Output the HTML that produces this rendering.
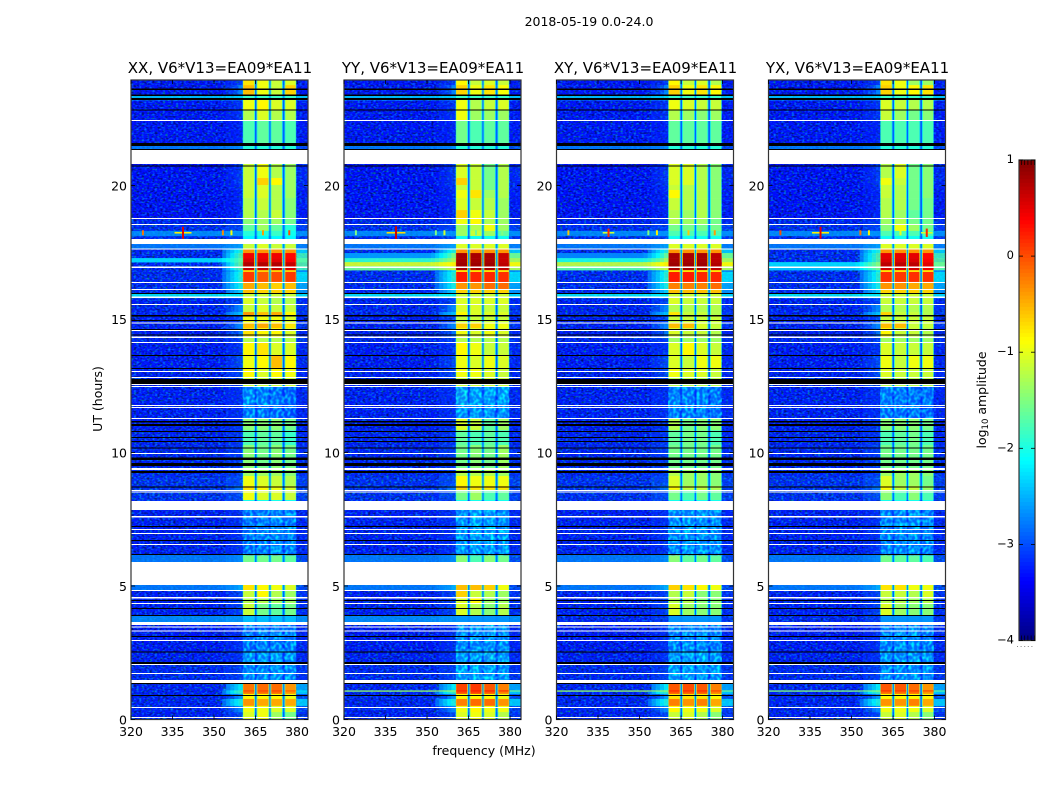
<!DOCTYPE html>
<html>
<head>
<meta charset="utf-8">
<title>2018-05-19 0.0-24.0</title>
<style>
html,body{margin:0;padding:0;background:#fff;}
svg{display:block;}
text{font-family:"DejaVu Sans","Liberation Sans",sans-serif;fill:#000;}
</style>
</head>
<body>
<svg id="chart" xmlns="http://www.w3.org/2000/svg" width="1050" height="800" viewBox="0 0 1050 800">
  <defs>
    <filter id="speckle-off" filterUnits="objectBoundingBox" x="0" y="0" width="1" height="1" color-interpolation-filters="sRGB">
      <feTurbulence type="fractalNoise" baseFrequency="0.38 0.55" numOctaves="1" seed="4"/>
      <feColorMatrix type="matrix" values="0 0 0 0 0  2 0 0 0 -0.95  0 3 0 0 -0.55  0 0 0 0 0.62"/>
    </filter>
    <filter id="speckle-quiet" filterUnits="objectBoundingBox" x="0" y="0" width="1" height="1" color-interpolation-filters="sRGB">
      <feTurbulence type="fractalNoise" baseFrequency="0.34 0.3" numOctaves="1" seed="9"/>
      <feColorMatrix type="matrix" values="0 0 0 0 0  3 0 0 0 -1.2  0 0 0 0 1  0 0 0 0 0.5"/>
    </filter>
  </defs>
  <rect x="0" y="0" width="1050" height="800" fill="#fff"/>
  <text x="589" y="26" font-size="12.5" text-anchor="middle">2018-05-19 0.0-24.0</text>
  <text x="484" y="755" font-size="12.5" text-anchor="middle">frequency (MHz)</text>
  <text x="0" y="0" font-size="12.5" text-anchor="middle" transform="translate(102,399) rotate(-90)">UT (hours)</text>
  <text x="0" y="0" font-size="12.5" text-anchor="middle" transform="translate(986,400) rotate(-90)">log<tspan font-size="8.5" dy="2">10</tspan><tspan dy="-2"> amplitude</tspan></text>
  <g id="panels"></g>
  <g id="colorbar"></g>
</svg>
<script>
// ---- chart data (log10 amplitude, hours, MHz) ----
const panelTitles = ['XX, V6*V13=EA09*EA11','YY, V6*V13=EA09*EA11','XY, V6*V13=EA09*EA11','YX, V6*V13=EA09*EA11'];
const freqTicks = [320,335,350,365,380];
const hourTicks = [0,5,10,15,20];
const colorTicks = [1,0,-1,-2,-3,-4];
const colorTickLabels = ['1','0','\u22121','\u22122','\u22123','\u22124'];
const bandEdgesMHz = [320,354,357.5,360.3,364.8,365.4,369.95,370.45,374.8,375.5,379.8,384];
const rowEdgesHours = [23.95,23.76,23.39,23.20,22.83,22.45,21.59,21.33,20.81,20.28,20.02,19.83,19.53,19.08,18.78,18.56,18.30,18.11,17.81,17.62,17.47,17.28,17.13,16.98,16.83,16.76,16.39,16.12,15.97,15.79,15.56,15.26,15.11,14.85,14.66,14.33,14.14,13.65,13.17,12.83,12.49,11.78,11.29,10.84,10.28,9.42,9.12,8.75,8.60,8.22,7.85,6.31,6.16,5.90,5.04,4.85,4.59,4.33,3.91,3.65,3.54,2.53,2.08,1.48,1.33,1.09,1.05,0.96,0.77,0.51,0.28,0];
// off-band levels per row: background, shoulder outer, shoulder inner, gap, right edge
const offBandLevels = [
[-3.2,-3.1,-2.9,-2.9,-3.2],[-3.2,-2.9,-2.6,-2.8,-3.2],[-2.3,-2.3,-2.2,-2.6,-2.3],[-3.2,-3.1,-3,-2.9,-3.2],[-3.2,-3.1,-3,-2.9,-3.2],
[-3.2,-3.2,-3.1,-2.9,-3.2],[-2.7,-2.7,-2.6,-2.8,-2.8],[-3.2,-3.2,-3.2,-3,-3.2],[-3.25,-3.1,-2.9,-2.9,-3.1],[-3.25,-3.1,-2.9,-2.9,-3.1],
[-3.25,-3.15,-3,-2.9,-3.15],[-3.25,-3.2,-3.1,-2.9,-3.2],[-3.25,-3.2,-3.1,-2.9,-3.2],[-3.25,-3.2,-3.1,-2.9,-3.2],[-3.05,-3.05,-3,-2.9,-3.05],
[-2.95,-2.95,-2.9,-2.8,-2.9],[-2.6,-2.6,-2.6,-2.8,-2.6],[-3,-3,-2.9,-2.9,-3],[-2.7,-2.6,-2.5,-2.7,-2.7],[-3,-2.2,-1.9,-2.6,-2.3],
[-3,-2,-1.6,-2.6,-1.8],[-3,-2,-1.6,-2.6,-1.7],[-3,-1.9,-1.5,-2.6,-1.7],[-3,-2,-1.6,-2.6,-1.8],[-3,-2.4,-2,-2.6,-2.6],
[-3,-2.2,-1.8,-2.6,-2.2],[-3,-2.3,-1.9,-2.7,-2.5],[-3,-2.5,-2.2,-2.7,-2.6],[-2.1,-2.1,-2.1,-2.6,-2.2],[-3.1,-3,-2.9,-2.9,-3.1],
[-3.05,-2.8,-2.6,-2.9,-3],[-3.05,-2.5,-2.3,-2.8,-3],[-3.1,-3,-2.8,-2.9,-3.1],[-3.1,-2.8,-2.6,-2.8,-3],[-3.1,-2.9,-2.7,-2.9,-3.1],
[-3,-3,-2.9,-2.9,-3],[-3.15,-3.1,-3,-2.9,-3.1],[-3.15,-3,-2.8,-2.9,-3.1],[-3.1,-3,-2.8,-2.9,-3.1],[-3.1,-3,-2.9,-2.9,-3.1],
[-3.1,-3.1,-3.05,-2.95,-3.1],[-3.1,-3.1,-3.05,-2.95,-3.1],[-3.1,-3.05,-3,-2.9,-3.1],[-3.05,-3.05,-3,-2.9,-3.1],[-3.05,-3,-2.95,-2.9,-3.05],
[-3,-3,-2.9,-2.9,-3],[-2.9,-2.9,-2.8,-2.8,-2.9],[-2.9,-2.8,-2.7,-2.8,-2.9],[-2.9,-2.9,-2.8,-2.8,-2.9],[-3,-3,-3,-3,-3],
[-3.1,-3.1,-3,-2.95,-3.1],[-3.1,-3.1,-3,-2.95,-3.1],[-2.7,-2.7,-2.6,-2.8,-2.8],[-3,-3,-3,-3,-3],[-2.7,-2.6,-2.4,-2.7,-2.8],
[-3.1,-3,-2.8,-2.9,-3],[-3.1,-3,-2.9,-2.9,-3.05],[-3.1,-3,-2.9,-2.9,-3.05],[-2.6,-2.6,-2.6,-2.7,-2.6],[-3,-3,-3,-3,-3],
[-3.15,-3.1,-3,-2.95,-3.1],[-3.1,-3.1,-3,-2.95,-3.1],[-3,-3,-2.9,-2.95,-3],[-3,-3,-3,-3,-3],[-3.05,-2.4,-2,-2.7,-2.5],
[-3.05,-1.9,-1.7,-2.6,-2.2],[-3.05,-2,-1.8,-2.7,-2.3],[-3.05,-2.8,-2.5,-2.8,-2.8],[-3.05,-2.2,-1.9,-2.7,-2.3],[-3.05,-2.8,-2.6,-2.8,-2.9],
[-3.1,-3,-2.8,-2.9,-3]];
// panel-specific off-band overrides: row top hour, background, shoulder outer, shoulder inner, right edge
const xxOverrides = [[17.28,-2.3,-1.9,-1.6,-1.7]];
const yyOverrides = [[17.47,-2.6,-1.9,-1.4,-1.6],[17.28,-1.9,-1.5,-1.2,-1.3],[17.13,-1.1,-0.9,-0.8,-0.9],[16.98,-1.6,-1.3,-1.1,-1.3],[1.09,-1.4,-1.3,-1.3,-1.5]];
const xyOverrides = [[17.47,-2.7,-2,-1.5,-1.6],[17.28,-2,-1.6,-1.2,-1.3],[17.13,-1.2,-0.9,-0.8,-0.9],[16.98,-1.7,-1.3,-1.1,-1.3],[3.91,-3,-3,-3,-3],[1.09,-1.4,-1.3,-1.3,-1.5]];
const yxOverrides = [[17.13,-2.3,-1.7,-1.4,-1.6],[16.98,-2.4,-1.8,-1.5,-1.7],[3.91,-3,-3,-3,-3],[1.09,-1.5,-1.4,-1.3,-1.6]];
// mean levels of the four spectral windows per row
const xxWindows = [
[-0.7,-0.9,-1.1,-1],[-0.5,-0.9,-1.1,-0.6],[-1.8,-1.8,-1.8,-1.8],[-0.9,-0.8,-1,-1],[-1.2,-1,-1.2,-1.2],
[-1.7,-1.6,-1.6,-1.7],[-1.9,-1.9,-1.9,-1.9],[-2,-2,-2,-2],[-1.1,-0.9,-1.2,-1.3],[-1.1,-0.6,-0.8,-1.3],
[-1.1,-1,-1.2,-1.3],[-1.1,-1,-1.2,-1.3],[-1.2,-1.1,-1.2,-1.4],[-1.2,-1.2,-1.1,-1.4],[-1.4,-1.3,-1.3,-1.5],
[-1.6,-1.3,-1.6,-1.9],[-1.9,-1.9,-1.8,-2],[-2.1,-2.1,-2.1,-2.1],[-1.1,-1,-1.1,-1.1],[-0.3,-0.3,-0.3,-0.3],
[0.5,0.5,0.5,0.4],[0.6,0.55,0.55,0.45],[0.8,0.8,0.8,0.7],[0.7,0.7,0.7,0.6],[-0.6,-0.6,-0.6,-0.6],
[0.15,0,0.05,0.15],[-0.4,-0.5,-0.6,-0.5],[-0.5,-0.6,-0.6,-0.6],[-1.1,-1.1,-1.1,-1.1],[-1,-1.1,-1.2,-1.2],
[-1.1,-1,-1.1,-1.1],[-0.3,-0.5,-0.4,-0.8],[-0.9,-0.9,-0.9,-1],[-0.5,-0.4,-0.5,-0.7],[-0.7,-0.8,-0.8,-1],
[-1.2,-1.2,-1.2,-1.2],[-0.8,-0.7,-1,-1],[-0.9,-0.8,-0.5,-0.8],[-0.8,-1,-0.8,-0.9],[-1.1,-1.1,-1.1,-1.1],
[-2.3,-2.4,-2.5,-2.6],[-2.5,-2.5,-2.6,-2.7],[-1.4,-1.4,-1.4,-1.5],[-1.7,-1.6,-1.6,-1.8],[-1.4,-1.5,-1.4,-1.5],
[-1.3,-1.3,-1.3,-1.4],[-0.9,-1,-1.1,-1.2],[-0.7,-0.8,-0.9,-1],[-0.9,-1,-1,-1.1],[-2,-2,-2,-2],
[-2.5,-2.4,-2.3,-2.4],[-2.5,-2.4,-2.3,-2.4],[-1.5,-1.5,-1.5,-1.6],[-2,-2,-2,-2],[-0.7,-0.8,-0.9,-1],
[-1.1,-0.8,-1.2,-1.3],[-1.2,-1.2,-1.3,-1.3],[-1.1,-1.5,-1.6,-1.5],[-2.4,-2.4,-2.4,-2.4],[-2.5,-2.5,-2.5,-2.5],
[-2.5,-2.4,-2.4,-2.4],[-2.2,-2.2,-2.1,-2.2],[-2.3,-2.3,-2.2,-2.3],[-1,-1,-1,-1],[-0.15,-0.1,-0.1,-0.3],
[0.1,0.1,0.1,0],[-0.15,-0.1,-0.1,-0.3],[-0.8,-0.8,-0.8,-0.9],[-0.3,-0.4,-0.4,-0.4],[-0.9,-0.9,-1,-1],
[-1,-0.9,-1.3,-1.5]];
const yyWindows = [
[-0.8,-1.1,-1,-1.1],[-0.6,-0.9,-0.7,-0.85],[-1.8,-1.8,-1.8,-1.8],[-0.9,-1.2,-1.1,-1],[-0.9,-1.3,-1.3,-1.3],
[-1.5,-1.7,-1.6,-1.6],[-1.9,-1.9,-1.9,-1.9],[-2,-2,-2,-2],[-1,-1.1,-1.5,-1.2],[-0.6,-1.1,-1.5,-1.2],
[-1.1,-1.1,-1.5,-1.2],[-0.9,-0.7,-1.3,-1.2],[-1,-1.1,-1.2,-1.3],[-0.6,-0.9,-1.1,-1.3],[-0.9,-0.8,-1.2,-1.3],
[-1.3,-1.2,-0.9,-1.3],[-1.3,-1.1,-1.3,-1.6],[-2,-2,-2,-2],[-1,-1,-1,-1],[-0.3,-0.3,-0.3,-0.3],
[0.85,0.85,0.85,0.7],[0.85,0.85,0.85,0.7],[0.9,0.9,0.9,0.75],[0.85,0.85,0.85,0.75],[-0.7,-0.7,-0.7,-0.7],
[0.3,0.25,0.25,0.2],[-0.3,-0.3,-0.1,-0.1],[-0.6,-0.6,-0.6,-0.6],[-1.1,-1.1,-1.1,-1.1],[-1,-1,-1,-1],
[-1,-1,-1.1,-1.1],[-0.8,-1,-1,-1],[-1.1,-1.1,-1.1,-1.1],[-0.6,-0.6,-0.9,-0.9],[-0.9,-1,-0.9,-1],
[-1.2,-1.2,-1.2,-1.2],[-0.8,-0.9,-1.1,-1.1],[-0.9,-1,-0.9,-1],[-0.9,-0.9,-1,-1.1],[-1.1,-1.1,-1.1,-1.1],
[-2,-2.1,-2.1,-2.1],[-2.2,-2.2,-2.2,-2.2],[-1,-1.1,-1.6,-1.3],[-1.6,-1.7,-1.6,-1.7],[-1.5,-1.4,-1.5,-1.3],
[-1.2,-1.2,-1.2,-1.3],[-0.8,-0.9,-0.9,-0.9],[-0.6,-0.7,-0.7,-0.7],[-1.5,-1.3,-1.7,-1.6],[-2,-2,-2,-2],
[-2.2,-2.1,-2.1,-2.2],[-2.2,-2.1,-2.1,-2.2],[-1.4,-1.7,-1.4,-1.5],[-2,-2,-2,-2],[-0.5,-0.5,-0.6,-0.9],
[-0.6,-1.1,-1.2,-1.3],[-1,-0.8,-1.3,-1.3],[-1,-1.2,-1.4,-1.2],[-2.6,-2.6,-2.6,-2.6],[-2.5,-2.5,-2.5,-2.5],
[-2.3,-2.3,-2.2,-2.3],[-2.1,-2.1,-2,-2.1],[-2.1,-2.1,-2.1,-2.2],[-1,-1,-1,-1],[0.1,0.15,0,-0.2],
[0.3,0.3,0.3,0.2],[0.05,0.1,0,-0.2],[-0.8,-0.8,-0.8,-0.9],[-0.2,-0.1,-0.1,-0.3],[-0.9,-0.8,-0.9,-0.9],
[-1,-0.9,-1,-1.2]];
const xyWindows = [
[-0.8,-1.1,-1,-1.2],[-0.6,-0.9,-0.7,-0.8],[-1.8,-1.8,-1.8,-1.8],[-0.9,-1,-1.1,-1.1],[-1.2,-1.3,-1.4,-1.3],
[-1.6,-1.6,-1.6,-1.6],[-1.9,-1.9,-1.9,-1.9],[-2,-2,-2,-2],[-1,-1,-1.2,-1.4],[-1,-1,-1.2,-1.4],
[-1.1,-1.2,-1.2,-1.4],[-0.8,-1.2,-1.2,-1.4],[-1.1,-1.2,-1.2,-1.4],[-1.2,-1.3,-1.2,-1.4],[-1.2,-1.3,-1.3,-1.5],
[-1.5,-1.5,-1.5,-1.5],[-1.7,-1.7,-1.7,-1.7],[-2,-2,-2,-2],[-1,-1,-1,-1],[-0.3,-0.3,-0.3,-0.3],
[0.85,0.85,0.85,0.75],[0.85,0.85,0.85,0.75],[0.9,0.9,0.9,0.8],[0.85,0.85,0.85,0.75],[-0.7,-0.7,-0.7,-0.7],
[0.3,0.3,0.25,0.25],[-0.2,-0.2,-0.2,-0.1],[-0.5,-0.5,-0.5,-0.5],[-1.1,-1.1,-1.1,-1.1],[-1,-1.1,-1.1,-1.1],
[-1.2,-1.2,-1.2,-1.2],[-0.7,-1.1,-1.1,-1.2],[-1.1,-1.1,-1.1,-1.1],[-0.5,-0.5,-1,-1.1],[-1,-1.1,-1.1,-1.2],
[-1.3,-1.3,-1.3,-1.3],[-1,-0.8,-1,-1.1],[-1,-1.1,-0.9,-0.9],[-0.9,-1,-1,-1.1],[-1.2,-1.2,-1.2,-1.2],
[-2.4,-2.4,-2.4,-2.5],[-2.4,-2.4,-2.4,-2.5],[-1.2,-1.5,-1.4,-1.4],[-1.6,-1.5,-1.5,-1.7],[-1.5,-1.5,-1.5,-1.5],
[-1.2,-1.3,-1.3,-1.4],[-1,-1.3,-1.3,-1.4],[-0.8,-1.1,-1.1,-1.2],[-1.5,-1.7,-1.5,-1.6],[-2,-2,-2,-2],
[-2.3,-2.2,-2.2,-2.3],[-2.3,-2.2,-2.2,-2.3],[-1.4,-1.6,-1.5,-1.6],[-2,-2,-2,-2],[-0.6,-0.7,-0.8,-0.9],
[-1.2,-1.1,-1.4,-1.4],[-1.2,-1.2,-1.4,-1.4],[-1,-1.3,-1.4,-1.4],[-2.6,-2.6,-2.6,-2.6],[-2.5,-2.5,-2.5,-2.5],
[-2.4,-2.3,-2.3,-2.4],[-2.1,-2.1,-2.1,-2.2],[-2.1,-2.1,-2.1,-2.2],[-1,-1,-1,-1],[0,0.05,0,-0.2],
[0.25,0.25,0.25,0.1],[0,0,0,-0.2],[-0.7,-0.7,-0.7,-0.8],[-0.2,-0.3,-0.2,-0.4],[-0.8,-0.9,-0.9,-1],
[-1.1,-1,-1.2,-1.4]];
const yxWindows = [
[-0.7,-0.9,-1.3,-1.3],[-0.6,-0.9,-0.8,-0.7],[-1.8,-1.8,-1.8,-1.8],[-1,-1.1,-1.2,-1.2],[-1.1,-1.3,-1.5,-1.4],
[-1.7,-1.7,-1.7,-1.7],[-1.9,-1.9,-1.9,-1.9],[-2,-2,-2,-2],[-1.2,-1,-1.5,-1.4],[-0.9,-1.1,-1.5,-1.4],
[-1.1,-1.2,-1.5,-1.4],[-1.1,-1.2,-1.5,-1.4],[-1.2,-1.2,-1.5,-1.5],[-1.2,-1.3,-1.6,-1.5],[-1.3,-1.2,-1.5,-1.5],
[-1.4,-0.9,-1.3,-1.5],[-1.7,-1.7,-1.7,-1.7],[-2,-2,-2,-2],[-1,-1,-1,-1],[-0.3,-0.3,-0.3,-0.3],
[0.55,0.55,0.55,0.4],[0.6,0.6,0.6,0.45],[0.75,0.75,0.75,0.55],[0.65,0.65,0.65,0.5],[-0.7,-0.7,-0.7,-0.7],
[0.2,0.15,0.2,0.2],[-0.3,-0.3,-0.4,-0.4],[-0.6,-0.6,-0.6,-0.6],[-1.1,-1.1,-1.1,-1.1],[-1.1,-1.1,-1.1,-1.1],
[-1.2,-1.2,-1.2,-1.2],[-0.6,-1.1,-1.1,-1.2],[-1.1,-1.1,-1.1,-1.1],[-0.5,-0.5,-1.1,-1.1],[-0.8,-1.1,-1.1,-1.2],
[-1.3,-1.3,-1.3,-1.3],[-1,-1.1,-1.1,-1.1],[-0.9,-1.1,-0.9,-0.9],[-1,-1.1,-1.1,-1.1],[-1.2,-1.2,-1.2,-1.2],
[-2.4,-2.4,-2.5,-2.5],[-2.5,-2.5,-2.5,-2.6],[-1.4,-1.4,-1.4,-1.5],[-1.7,-1.6,-1.5,-1.7],[-1.5,-1.5,-1.5,-1.5],
[-1.3,-1.3,-1.3,-1.4],[-1,-1.3,-1.3,-1.5],[-0.8,-1.1,-1.1,-1.3],[-1.4,-1.7,-1.4,-1.7],[-2,-2,-2,-2],
[-2.4,-2.3,-2.3,-2.4],[-2.4,-2.3,-2.3,-2.4],[-1.5,-1.6,-1.6,-1.7],[-2,-2,-2,-2],[-0.7,-0.7,-0.9,-0.9],
[-1.1,-1.1,-1.2,-1],[-1.2,-1.2,-1.3,-1.2],[-1,-1.3,-1.4,-1.4],[-2.6,-2.6,-2.6,-2.6],[-2.5,-2.5,-2.5,-2.5],
[-2.4,-2.3,-2.3,-2.4],[-2.2,-2.2,-2.2,-2.2],[-2.3,-2.3,-2.2,-2.3],[-1,-1,-1,-1],[0,0,-0.1,-0.3],
[0.2,0.2,0.15,0.1],[-0.1,-0.1,-0.1,-0.3],[-0.8,-0.8,-0.8,-0.8],[-0.3,-0.3,-0.2,-0.4],[-0.9,-0.9,-0.9,-1],
[-1.1,-1,-1.2,-1.4]];
const quietRanges = [[12.49,11.29],[7.85,6.16],[3.54,1.48]];
// flagged time ranges: top hour, bottom hour
const whiteFlags = [[22.45,22.41],[21.33,20.81],[18.78,18.74],[18.56,18.52],[18,17.81],[17.64,17.60],[16.97,16.91],[16.39,16.35],[16.12,16.09],[15.84,15.79],[15.56,15.52],[14.87,14.83],[14.59,14.55],[14.34,14.29],[14.14,14.10],[13.05,13.01],[12.83,12.79],[12.57,12.53],[12.49,12.45],[11.78,11.74],[11.70,11.67],[11.29,11.25],[9.98,9.94],[9.42,9.34],[8.60,8.56],[8.54,8.50],[8.18,7.85],[7.62,7.57],[7.13,7.10],[6.98,6.95],[6.57,6.54],[5.90,5.04],[4.85,4.81],[4.59,4.53],[4.36,4.33],[3.65,3.54],[3.48,3.45],[3.33,3.30],[2.98,2.94],[2.08,2.04],[1.74,1.70],[1.48,1.37],[0.47,0.43],[0.09,0.06]];
const blackFlags = [[23.63,23.58],[23.41,23.35],[23.28,23.20],[22.85,22.81],[21.59,21.48],[21.37,21.33],[20.75,20.71],[15.97,15.94],[15.15,15.09],[14.96,14.93],[14.63,14.59],[14.42,14.38],[13.65,13.61],[13.17,13.13],[12.75,12.57],[11.18,11.13],[11.07,10.99],[10.81,10.77],[10.58,10.54],[10.43,10.39],[10.19,10.15],[9.81,9.72],[9.60,9.50],[9.31,9.23],[8.73,8.69],[7.25,7.21],[6.72,6.69],[6.20,6.16],[4.48,4.44],[4.18,4.14],[3.91,3.88],[3.13,3.09],[2.55,2.51],[2.15,2.08],[1.37,1.33],[0.92,0.88]];
// narrow-band interference near 18.2 h
const rfiFreqs = [338.8,324.3,353.2,356.3,367.7,377.2];
const rfiHour = 18.23;
const xxRfiLevels = [0.5,-0.2,-0.3,-0.9,-0.4,0];
const yyRfiLevels = [0.6,-1.5,-1.5,-1.1,-1.6,-1.5];
const xyRfiLevels = [0.2,-0.6,-1.5,-0.8,-0.6,-0.4];
const yxRfiLevels = [0.5,0,-0.2,-0.8,-1,0.2];

// ---- layout and scales ----
const svgNS = 'http://www.w3.org/2000/svg';
const vmin = -4, vmax = 1;
const windowBias = -0.05;
const panelWidth = 177, pxPerMHz = 2.767, pxPerHour = 26.7, yZero = 719.5, panelTop = 80;
const panelLeftEdges = [131, 344, 556.5, 768.5];
const panelWindows = [xxWindows, yyWindows, xyWindows, yxWindows];
const panelOverrides = [xxOverrides, yyOverrides, xyOverrides, yxOverrides];
const panelRfi = [xxRfiLevels, yyRfiLevels, xyRfiLevels, yxRfiLevels];

function clamp01(v){ return Math.max(0, Math.min(1, v)); }
function jet(v){
  const t = clamp01((v - vmin) / (vmax - vmin));
  const r = clamp01(Math.min(4*t - 1.5, -4*t + 4.5));
  const g = clamp01(Math.min(4*t - 0.5, -4*t + 3.5));
  const b = clamp01(Math.min(4*t + 0.5, -4*t + 2.5));
  return 'rgb(' + Math.round(r*255) + ',' + Math.round(g*255) + ',' + Math.round(b*255) + ')';
}
function yScale(h){ return yZero - h * pxPerHour; }
function xScale(left, f){ return left + (f - 320) * pxPerMHz; }
function mk(tag, attrs, parent){
  const el = document.createElementNS(svgNS, tag);
  for (const k in attrs) el.setAttribute(k, attrs[k]);
  parent.appendChild(el);
  return el;
}
function offLevelsFor(p, r){
  const off = offBandLevels[r];
  const ov = panelOverrides[p].find(function(o){ return o[0] === rowEdgesHours[r]; });
  if (ov) return {bg:ov[1], sh1:ov[2], sh2:ov[3], gap:off[3], right:ov[4], over:true};
  return {bg:off[0], sh1:off[1], sh2:off[2], gap:off[3], right:off[4], over:false};
}
// smooth the rise from background into the window, as the interpolated image does
function shoulderRamp(o){
  const out = [[bandEdgesMHz[0], 351.5, o.bg]];
  const steps = 6;
  const f0 = 351.5, f1 = bandEdgesMHz[2], f2 = bandEdgesMHz[3];
  for (let s = 0; s < steps; s++) {
    const a = f0 + (f2 - f0) * s / steps;
    const b = f0 + (f2 - f0) * (s + 1) / steps;
    const mid = (a + b) / 2;
    const v = mid < f1 ? o.bg + (o.sh1 - o.bg) * (mid - f0) / (f1 - f0)
                       : o.sh1 + (o.sh2 - o.sh1) * (mid - f1) / (f2 - f1);
    out.push([a, b, v]);
  }
  return out;
}

const panelsRoot = document.getElementById('panels');
panelTitles.forEach(function(title, p){
  const left = panelLeftEdges[p];
  const g = mk('g', {}, panelsRoot);
  
  

  const rows = panelWindows[p];
  rows.forEach(function(win, r){
    const y0 = yScale(rowEdgesHours[r]);
    const y1 = yScale(rowEdgesHours[r+1]);
    const o = offLevelsFor(p, r);
    shoulderRamp(o).forEach(function(st){
      const x0 = xScale(left, st[0]);
      const x1 = xScale(left, st[1]);
      const cell = mk('rect', {x:x0, y:y0, width:x1-x0+0.4, height:y1-y0+0.3, fill:jet(st[2])}, g);
      
      
    });
    const levels = [null, null, o.sh2, win[0]+windowBias, o.gap, win[1]+windowBias, o.gap, win[2]+windowBias, o.gap, win[3]+windowBias, o.right];
    for (let i = 3; i <= 10; i++) {
      const x0 = xScale(left, bandEdgesMHz[i]);
      const x1 = xScale(left, bandEdgesMHz[i+1]);
      const cell = mk('rect', {x:x0, y:y0, width:x1-x0+0.4, height:y1-y0+0.3, fill:jet(levels[i])}, g);
      
      
    }
    // softened window edges, placed on the window side so the gaps stay dark
    for (let i = 3; i <= 10; i++) {
      const mid = (levels[i-1] + levels[i]) / 2;
      const xe = xScale(left, bandEdgesMHz[i]);
      const sx = (i % 2 === 1) ? xe : xe - 0.7;
      const soft = mk('rect', {x:sx, y:y0, width:0.7, height:y1-y0+0.3, fill:jet(mid)}, g);
      
      
    }
  });

  // background speckle
  const spL = xScale(left, 320), spM = xScale(left, bandEdgesMHz[1]), spR = xScale(left, bandEdgesMHz[3]);
  const sp1 = mk('rect', {x:spL, y:panelTop, width:spM-spL, height:yZero-panelTop, fill:'#000', filter:'url(#speckle-off)'}, g);
  
  
  const spS = mk('rect', {x:spM, y:panelTop, width:spR-spM, height:yZero-panelTop, fill:'#000', filter:'url(#speckle-off)', opacity:0.6}, g);
  
  
  const spL2 = xScale(left, bandEdgesMHz[10]), spR2 = left + panelWidth;
  const sp2 = mk('rect', {x:spL2, y:panelTop, width:spR2-spL2, height:yZero-panelTop, fill:'#000', filter:'url(#speckle-off)', opacity:0.7}, g);
  
  
  quietRanges.forEach(function(q){
    const x0 = xScale(left, bandEdgesMHz[3]), x1 = xScale(left, bandEdgesMHz[10]);
    const sq = mk('rect', {x:x0, y:yScale(q[0]), width:x1-x0, height:yScale(q[1])-yScale(q[0]), fill:'#000', filter:'url(#speckle-quiet)'}, g);
    
    
  });

  // bright off-band rows stay visible through the noise
  rows.forEach(function(win, r){
    const o = offLevelsFor(p, r);
    const y0 = yScale(rowEdgesHours[r]);
    const y1 = yScale(rowEdgesHours[r+1]);
    const op = o.over ? 0.92 : 0.7;
    shoulderRamp(o).forEach(function(st){
      if (st[2] <= -2.8) return;
      const x0 = xScale(left, st[0]);
      const x1 = xScale(left, st[1]);
      const cell = mk('rect', {x:x0, y:y0, width:x1-x0+0.4, height:y1-y0+0.3, fill:jet(st[2]), opacity:op}, g);
      
      
    });
    if (o.right > -2.8) {
      const x0 = xScale(left, bandEdgesMHz[10]);
      const x1 = xScale(left, bandEdgesMHz[11]);
      const cell = mk('rect', {x:x0, y:y0, width:x1-x0, height:y1-y0+0.3, fill:jet(o.right), opacity:op}, g);
      
      
    }
  });

  // interference spots
  rfiFreqs.forEach(function(f, i){
    const lvl = panelRfi[p][i];
    const cx = xScale(left, f), cy = yScale(rfiHour);
    if (lvl > 0) {
      const hw = 4 + 9 * lvl;
      const hbar = mk('rect', {x:cx-hw, y:cy-0.8, width:2*hw, height:1.6, fill:jet(lvl - 1.3)}, g);
      
      
    }
    const vh = lvl > 0 ? 3 + 6 * lvl : 2.5;
    const vbar = mk('rect', {x:cx-1, y:cy-vh, width:2, height:2*vh, fill:jet(lvl)}, g);
    
    
  });

  // flagged rows
  whiteFlags.forEach(function(fl){
    const y0 = yScale(fl[0]), y1 = yScale(fl[1]);
    const w = mk('rect', {x:left, y:y0, width:panelWidth, height:y1-y0, fill:'#fff', 'shape-rendering':'crispEdges'}, g);
    
    
  });
  blackFlags.forEach(function(fl){
    const y0 = yScale(fl[0]), y1 = yScale(fl[1]);
    const b = mk('rect', {x:left, y:y0, width:panelWidth, height:y1-y0, fill:'#000', 'shape-rendering':'crispEdges'}, g);
    
    
  });

  // frame
  const frame = mk('rect', {x:left, y:panelTop, width:panelWidth, height:yZero-panelTop, fill:'none', stroke:'#333', 'stroke-width':1.2}, g);
  
  

  // ticks
  freqTicks.forEach(function(f){
    const x = xScale(left, f);
    const t1 = mk('line', {x1:x, x2:x, y1:yZero, y2:yZero-4, stroke:'#000', 'stroke-width':0.8}, g);
    
    
    const t2 = mk('line', {x1:x, x2:x, y1:panelTop, y2:panelTop+4, stroke:'#000', 'stroke-width':0.8}, g);
    
    
    const lab = mk('text', {x:x, y:736, 'font-size':12.5, 'text-anchor':'middle'}, g);
    lab.textContent = String(f);
    
    
  });
  hourTicks.forEach(function(h){
    const y = yScale(h);
    const t1 = mk('line', {x1:left, x2:left+4, y1:y, y2:y, stroke:'#000', 'stroke-width':0.8}, g);
    
    
    const t2 = mk('line', {x1:left+panelWidth, x2:left+panelWidth-4, y1:y, y2:y, stroke:'#000', 'stroke-width':0.8}, g);
    
    
    const lab = mk('text', {x:left-4, y:y+5, 'font-size':12.5, 'text-anchor':'end'}, g);
    lab.textContent = String(h);
    
    
  });

  // title
  const tt = mk('text', {x:left+panelWidth/2+0.5, y:73, 'font-size':15, 'text-anchor':'middle'}, g);
  tt.textContent = title;
  
  
});

// ---- colorbar ----
const cbRoot = document.getElementById('colorbar');
const cbLeft = 1019, cbRight = 1035, cbTop = 160, cbBottom = 640.5;
function cbY(v){ return cbBottom - (v - vmin) / (vmax - vmin) * (cbBottom - cbTop); }
for (let i = 0; i < 128; i++) {
  const v0 = vmin + (vmax - vmin) * i / 128;
  const v1 = vmin + (vmax - vmin) * (i + 1) / 128;
  const s = mk('rect', {x:cbLeft, y:cbY(v1), width:cbRight-cbLeft, height:cbY(v0)-cbY(v1)+0.4, fill:jet((v0+v1)/2)}, cbRoot);
  
  
}
const cbFrame = mk('rect', {x:cbLeft, y:cbTop, width:cbRight-cbLeft, height:cbBottom-cbTop, fill:'none', stroke:'#333', 'stroke-width':1.2}, cbRoot);


colorTicks.forEach(function(v, i){
  const y = cbY(v);
  const a = mk('line', {x1:cbLeft, x2:cbLeft+4, y1:y, y2:y, stroke:'#000', 'stroke-width':0.8}, cbRoot);
  
  
  const b = mk('line', {x1:cbRight, x2:cbRight-4, y1:y, y2:y, stroke:'#000', 'stroke-width':0.8}, cbRoot);
  
  
  const lab = mk('text', {x:1014, y:y+3, 'font-size':11.5, 'text-anchor':'end'}, cbRoot);
  lab.textContent = colorTickLabels[i];
  
  
});
for (let k = 0; k < 5; k++) {
  const x = cbLeft + 2.5 + k * 3.2;
  const c1 = mk('line', {x1:x, x2:x, y1:cbTop, y2:cbTop+5, stroke:'#000', 'stroke-width':0.7}, cbRoot);
  
  
  const c2 = mk('line', {x1:x, x2:x, y1:cbBottom, y2:cbBottom-5, stroke:'#000', 'stroke-width':0.7}, cbRoot);
  
  
}
const dots = mk('line', {x1:1017, x2:1035, y1:646.5, y2:646.5, stroke:'#888', 'stroke-width':1, 'stroke-dasharray':'1 2.6'}, cbRoot);


</script>
</body>
</html>
